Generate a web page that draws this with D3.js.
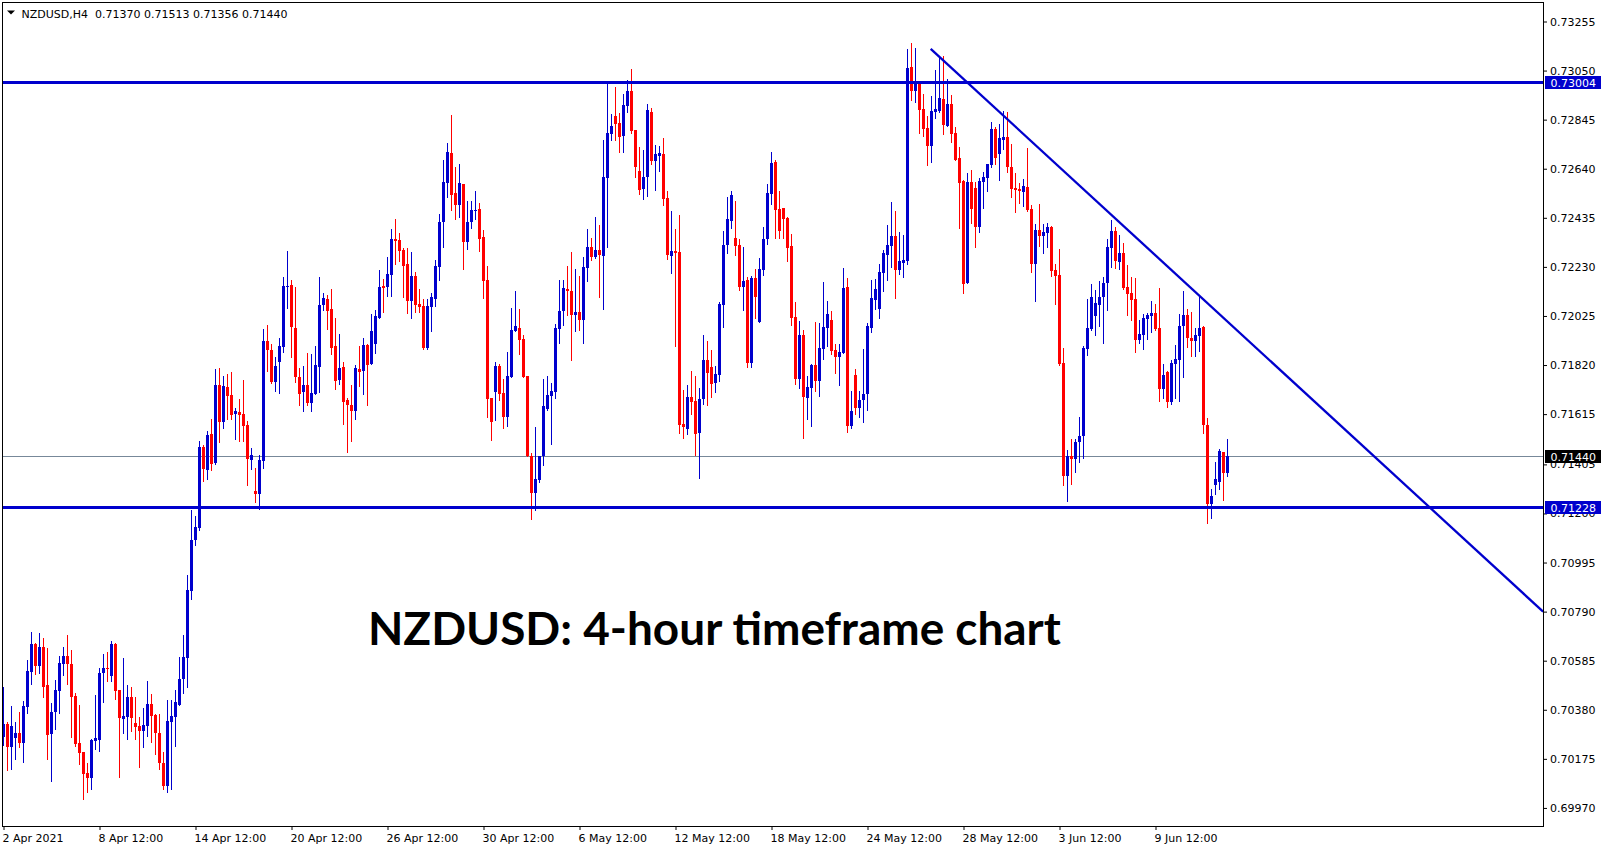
<!DOCTYPE html>
<html><head><meta charset="utf-8">
<script src="https://cdn.jsdelivr.net/npm/d3@7"></script>
<style>
html,body{margin:0;padding:0;background:#fff;overflow:hidden}
svg{display:block}
</style></head><body>
<svg id="c" width="1607" height="850"></svg>
<script>
const symbol = "NZDUSD", timeframe = "H4";
const chartTitle = "NZDUSD: 4-hour timeframe chart";

const open = [
0.70268,0.70321,0.70226,0.70264,0.70283,0.70243,0.70393,0.70539,0.70655,0.70563,
0.70642,0.70484,0.70280,0.70371,0.70460,0.70573,0.70605,0.70571,0.70438,0.70241,
0.70204,0.70116,0.70097,0.70251,0.70254,0.70534,0.70555,0.70521,0.70655,0.70463,
0.70343,0.70351,0.70433,0.70325,0.70312,0.70293,0.70314,0.70404,0.70358,0.70283,
0.70158,0.70063,0.70330,0.70351,0.70401,0.70510,0.70598,0.70878,0.71089,0.71138,
0.71479,0.71383,0.71532,0.71411,0.71737,0.71584,0.71729,0.71695,0.71617,0.71624,
0.71616,0.71570,0.71425,0.71294,0.71283,0.71421,0.71921,0.71884,0.71751,0.71834,
0.71897,0.72146,0.72154,0.71975,0.71772,0.71709,0.71737,0.71663,0.71701,0.71813,
0.72071,0.72096,0.72054,0.71900,0.71759,0.71812,0.71674,0.71653,0.71626,0.71804,
0.71797,0.71904,0.71826,0.71909,0.72018,0.72150,0.72146,0.72196,0.72347,0.72342,
0.72301,0.72242,0.72089,0.72192,0.72074,0.72067,0.71893,0.72064,0.72096,0.72231,
0.72418,0.72582,0.72706,0.72539,0.72490,0.72576,0.72336,0.72418,0.72465,0.72472,
0.72355,0.72176,0.71684,0.71709,0.71818,0.71705,0.71605,0.71772,0.71964,0.71975,
0.71929,0.71776,0.71442,0.71287,0.71338,0.71442,0.71638,0.71692,0.71709,0.71972,
0.72045,0.72139,0.72131,0.72031,0.72043,0.72010,0.72227,0.72313,0.72272,0.72301,
0.72277,0.72603,0.72785,0.72860,0.72833,0.72777,0.72902,0.72965,0.72802,0.72631,
0.72555,0.72605,0.72877,0.72672,0.72693,0.72702,0.72518,0.72276,0.72297,0.72292,
0.71574,0.71553,0.71687,0.71670,0.71537,0.71678,0.71841,0.71812,0.71747,0.71779,
0.72071,0.72322,0.72422,0.72351,0.72322,0.72146,0.72175,0.71829,0.72184,0.72000,
0.72217,0.72347,0.72534,0.72668,0.72472,0.72476,0.72434,0.72317,0.72021,0.71762,
0.71946,0.71683,0.71724,0.71820,0.71754,0.71887,0.71975,0.72008,0.71883,0.71854,
0.71871,0.72146,0.71567,0.71780,0.71642,0.71676,0.71697,0.71976,0.72093,0.72052,
0.72206,0.72281,0.72319,0.72361,0.72215,0.72248,0.72256,0.73066,0.72966,0.72995,
0.72891,0.72812,0.72736,0.72878,0.72883,0.72933,0.72820,0.72912,0.72791,0.72686,
0.72590,0.72164,0.72586,0.72561,0.72398,0.72586,0.72603,0.72657,0.72808,0.72703,
0.72762,0.72774,0.72649,0.72561,0.72557,0.72544,0.72565,0.72473,0.72240,0.72384,
0.72361,0.72373,0.72397,0.72219,0.72198,0.71830,0.71358,0.71442,0.71429,0.71500,
0.71525,0.71889,0.71972,0.72026,0.72072,0.72106,0.72164,0.72310,0.72381,0.72252,
0.72290,0.72148,0.72122,0.72097,0.71926,0.71947,0.72014,0.72026,0.72039,0.71976,
0.71722,0.71793,0.71667,0.71826,0.71843,0.71985,0.72031,0.71935,0.71922,0.71943,
0.71980,0.71571,0.71241,0.71317,0.71333,0.71458,0.71370
];
const high = [
0.70477,0.70330,0.70396,0.70329,0.70371,0.70417,0.70588,0.70705,0.70659,0.70701,
0.70680,0.70638,0.70408,0.70505,0.70605,0.70642,0.70692,0.70631,0.70450,0.70400,
0.70204,0.70158,0.70258,0.70442,0.70555,0.70613,0.70621,0.70667,0.70659,0.70463,
0.70596,0.70484,0.70475,0.70433,0.70350,0.70388,0.70500,0.70446,0.70363,0.70363,
0.70204,0.70421,0.70421,0.70463,0.70601,0.70692,0.70943,0.71215,0.71189,0.71504,
0.71484,0.71546,0.71595,0.71804,0.71808,0.71774,0.71784,0.71791,0.71641,0.71678,
0.71758,0.71587,0.71475,0.71392,0.71443,0.71971,0.71987,0.71908,0.71855,0.71933,
0.72188,0.72296,0.72175,0.72146,0.71808,0.71816,0.71871,0.71866,0.71900,0.72188,
0.72121,0.72113,0.72138,0.72017,0.71950,0.71833,0.71684,0.71737,0.71820,0.71900,
0.71933,0.71908,0.72033,0.72050,0.72217,0.72180,0.72271,0.72388,0.72430,0.72372,
0.72309,0.72309,0.72292,0.72209,0.72138,0.72096,0.72096,0.72120,0.72259,0.72451,
0.72677,0.72748,0.72865,0.72647,0.72660,0.72576,0.72505,0.72505,0.72547,0.72497,
0.72384,0.72234,0.71684,0.71833,0.71826,0.71763,0.71875,0.72060,0.72131,0.72056,
0.71946,0.71776,0.71453,0.71563,0.71442,0.71763,0.71776,0.71743,0.71993,0.72177,
0.72176,0.72234,0.72294,0.72223,0.72194,0.72273,0.72390,0.72352,0.72440,0.72407,
0.72762,0.72994,0.72869,0.72981,0.72873,0.72952,0.73011,0.73055,0.72802,0.72731,
0.72718,0.72910,0.72894,0.72739,0.72735,0.72768,0.72547,0.72463,0.72388,0.72447,
0.71716,0.71737,0.71795,0.71775,0.71724,0.71946,0.71921,0.71883,0.71816,0.72083,
0.72380,0.72522,0.72547,0.72505,0.72347,0.72313,0.72188,0.72192,0.72221,0.72267,
0.72397,0.72576,0.72710,0.72677,0.72547,0.72476,0.72439,0.72367,0.72083,0.72004,
0.71967,0.71775,0.71825,0.72000,0.71996,0.72167,0.72088,0.72046,0.71908,0.71908,
0.72225,0.72184,0.71713,0.71805,0.71713,0.71885,0.71997,0.72177,0.72181,0.72240,
0.72302,0.72407,0.72503,0.72465,0.72377,0.72365,0.73142,0.73167,0.73146,0.73004,
0.72954,0.72862,0.72945,0.73054,0.73108,0.73112,0.73016,0.72950,0.72816,0.72732,
0.72595,0.72624,0.72636,0.72586,0.72603,0.72628,0.72661,0.72837,0.72816,0.72828,
0.72883,0.72878,0.72745,0.72624,0.72582,0.72599,0.72728,0.72490,0.72411,0.72493,
0.72409,0.72413,0.72401,0.72244,0.72306,0.71893,0.71467,0.71509,0.71513,0.71605,
0.71901,0.72097,0.72160,0.72135,0.72173,0.72189,0.72348,0.72426,0.72398,0.72365,
0.72331,0.72239,0.72189,0.72185,0.72010,0.72035,0.72039,0.72089,0.72077,0.72143,
0.71826,0.71797,0.71839,0.71905,0.72035,0.72131,0.72056,0.72043,0.71976,0.72106,
0.71985,0.71600,0.71304,0.71413,0.71471,0.71458,0.71513
];
const low = [
0.70233,0.70129,0.70133,0.70175,0.70226,0.70162,0.70368,0.70488,0.70530,0.70535,
0.70435,0.70175,0.70084,0.70301,0.70368,0.70527,0.70488,0.70268,0.70230,0.70155,
0.70006,0.70038,0.70047,0.70218,0.70209,0.70413,0.70502,0.70502,0.70425,0.70101,
0.70285,0.70259,0.70293,0.70259,0.70143,0.70226,0.70272,0.70247,0.70197,0.70134,
0.70047,0.70038,0.70047,0.70230,0.70401,0.70452,0.70477,0.70844,0.71068,0.71131,
0.71337,0.71342,0.71383,0.71408,0.71500,0.71557,0.71595,0.71595,0.71511,0.71504,
0.71504,0.71321,0.71387,0.71246,0.71220,0.71392,0.71797,0.71747,0.71713,0.71705,
0.71876,0.72060,0.71855,0.71751,0.71651,0.71630,0.71651,0.71626,0.71697,0.71709,
0.72050,0.71972,0.71868,0.71722,0.71742,0.71575,0.71458,0.71504,0.71596,0.71734,
0.71701,0.71655,0.71826,0.71872,0.72018,0.72043,0.72109,0.72109,0.72242,0.72255,
0.72104,0.72038,0.72018,0.72043,0.72043,0.71889,0.71885,0.71964,0.72068,0.72176,
0.72311,0.72524,0.72469,0.72432,0.72440,0.72223,0.72306,0.72394,0.72432,0.72298,
0.72098,0.71605,0.71505,0.71592,0.71676,0.71555,0.71567,0.71772,0.71964,0.71868,
0.71768,0.71442,0.71175,0.71216,0.71333,0.71404,0.71634,0.71492,0.71684,0.71910,
0.71988,0.72031,0.71843,0.71964,0.71968,0.71914,0.72173,0.72260,0.72269,0.72106,
0.72052,0.72311,0.72760,0.72760,0.72711,0.72711,0.72877,0.72790,0.72607,0.72534,
0.72514,0.72526,0.72660,0.72551,0.72631,0.72489,0.72263,0.72205,0.71900,0.71537,
0.71516,0.71532,0.71616,0.71445,0.71350,0.71658,0.71653,0.71687,0.71708,0.71754,
0.71979,0.72288,0.72393,0.72280,0.72134,0.72050,0.71812,0.71812,0.72017,0.72000,
0.72196,0.72326,0.72493,0.72351,0.72351,0.72351,0.72255,0.71987,0.71741,0.71724,
0.71516,0.71595,0.71566,0.71712,0.71691,0.71846,0.71900,0.71866,0.71787,0.71737,
0.71871,0.71541,0.71559,0.71617,0.71605,0.71584,0.71634,0.71956,0.72056,0.72018,
0.72131,0.72177,0.72231,0.72102,0.72202,0.72189,0.72240,0.72929,0.72920,0.72791,
0.72778,0.72657,0.72670,0.72853,0.72878,0.72787,0.72820,0.72753,0.72678,0.72394,
0.72123,0.72164,0.72415,0.72311,0.72377,0.72478,0.72549,0.72649,0.72661,0.72595,
0.72724,0.72628,0.72524,0.72461,0.72498,0.72486,0.72465,0.72210,0.72089,0.72319,
0.72290,0.72315,0.72193,0.72077,0.71822,0.71321,0.71254,0.71325,0.71375,0.71417,
0.71433,0.71864,0.71968,0.71947,0.71985,0.71914,0.72051,0.72231,0.72227,0.72223,
0.72139,0.72031,0.72010,0.71876,0.71914,0.71889,0.71930,0.71960,0.71968,0.71671,
0.71684,0.71646,0.71659,0.71684,0.71671,0.71772,0.71897,0.71859,0.71859,0.71880,
0.71538,0.71162,0.71179,0.71283,0.71304,0.71258,0.71356
];
const close = [
0.70321,0.70226,0.70312,0.70283,0.70243,0.70396,0.70542,0.70655,0.70563,0.70642,
0.70477,0.70276,0.70371,0.70463,0.70575,0.70605,0.70573,0.70435,0.70237,0.70201,
0.70113,0.70097,0.70254,0.70262,0.70534,0.70555,0.70550,0.70655,0.70460,0.70346,
0.70354,0.70433,0.70346,0.70310,0.70293,0.70317,0.70404,0.70356,0.70285,0.70159,
0.70063,0.70333,0.70354,0.70413,0.70509,0.70601,0.70880,0.71089,0.71144,0.71479,
0.71387,0.71528,0.71408,0.71737,0.71584,0.71733,0.71692,0.71613,0.71628,0.71612,
0.71567,0.71429,0.71443,0.71283,0.71425,0.71921,0.71884,0.71751,0.71818,0.71900,
0.72150,0.72150,0.71980,0.71772,0.71701,0.71737,0.71663,0.71703,0.71820,0.72071,
0.72100,0.72047,0.71893,0.71755,0.71808,0.71667,0.71655,0.71630,0.71808,0.71793,
0.71904,0.71822,0.71962,0.72025,0.72146,0.72143,0.72200,0.72347,0.72340,0.72296,
0.72235,0.72089,0.72192,0.72071,0.72061,0.71893,0.72067,0.72103,0.72234,0.72418,
0.72585,0.72710,0.72532,0.72490,0.72581,0.72336,0.72418,0.72468,0.72468,0.72348,
0.72173,0.71680,0.71584,0.71818,0.71701,0.71605,0.71776,0.71967,0.71983,0.71926,
0.71768,0.71442,0.71287,0.71346,0.71442,0.71647,0.71695,0.71712,0.71976,0.72047,
0.72142,0.72131,0.72031,0.72043,0.72010,0.72230,0.72313,0.72272,0.72302,0.72281,
0.72607,0.72789,0.72819,0.72827,0.72773,0.72906,0.72965,0.72798,0.72649,0.72551,
0.72605,0.72885,0.72672,0.72702,0.72706,0.72514,0.72280,0.72297,0.72288,0.71570,
0.71561,0.71687,0.71666,0.71532,0.71678,0.71841,0.71787,0.71742,0.71783,0.72075,
0.72322,0.72430,0.72530,0.72317,0.72146,0.72171,0.71829,0.72184,0.72104,0.72221,
0.72347,0.72539,0.72664,0.72468,0.72380,0.72430,0.72309,0.72017,0.71762,0.71946,
0.71687,0.71729,0.71820,0.71754,0.71891,0.71979,0.72033,0.71879,0.71854,0.71875,
0.72142,0.71566,0.71626,0.71642,0.71676,0.71701,0.71981,0.72098,0.72139,0.72210,
0.72286,0.72323,0.72361,0.72215,0.72256,0.72260,0.73062,0.72966,0.73008,0.72887,
0.72808,0.72736,0.72883,0.72891,0.72937,0.72824,0.72912,0.72787,0.72678,0.72582,
0.72160,0.72586,0.72473,0.72398,0.72590,0.72607,0.72661,0.72808,0.72686,0.72770,
0.72774,0.72649,0.72557,0.72553,0.72549,0.72569,0.72469,0.72240,0.72386,0.72361,
0.72376,0.72397,0.72214,0.72193,0.71826,0.71358,0.71442,0.71429,0.71500,0.71525,
0.71893,0.71976,0.72106,0.72081,0.72106,0.72164,0.72315,0.72381,0.72256,0.72290,
0.72143,0.72118,0.72093,0.71926,0.71951,0.72018,0.72031,0.72039,0.71972,0.71722,
0.71780,0.71667,0.71830,0.71847,0.71985,0.72031,0.71935,0.71922,0.71947,0.71976,
0.71571,0.71241,0.71275,0.71346,0.71463,0.71371,0.71440
];

const xTickIndex  = [0,24,48,72,96,120,144,168,192,216,240,264,288];
const xTickLabels = ["2 Apr 2021","8 Apr 12:00","14 Apr 12:00","20 Apr 12:00","26 Apr 12:00",
  "30 Apr 12:00","6 May 12:00","12 May 12:00","18 May 12:00","24 May 12:00",
  "28 May 12:00","3 Jun 12:00","9 Jun 12:00"];
const yTickValues = [0.73255,0.73050,0.72845,0.72640,0.72435,0.72230,0.72025,0.71820,
  0.71615,0.71405,0.71200,0.70995,0.70790,0.70585,0.70380,0.70175,0.69970];
const levelPrices = [0.73004, 0.71228];
const bidPrice = 0.71440;
const trendBars   = [231.8, 384.9];
const trendPrices = [0.73141, 0.70790];

if (![open,high,low].every(a => a.length === close.length))
  throw new Error("length mismatch " + [open.length,high.length,low.length,close.length]);

const BLUE = "#0000CD", RED = "#FF0000", FONT = "DejaVu Sans, Verdana, sans-serif";
const P = {left: 2, top: 2, right: 1543, bottom: 826};
const n = close.length;
const x = d3.scaleLinear().domain([0, n - 1]).range([3.5, 3.5 + 4 * (n - 1)]);
const y = d3.scaleLinear().domain([0.69970, 0.73255]).range([807.93, 21.5]);

const svg = d3.select("#c");
svg.append("defs").append("clipPath").attr("id", "plot")
  .append("rect").attr("x", P.left + 1).attr("y", P.top + 1)
  .attr("width", P.right - P.left - 1).attr("height", P.bottom - P.top - 1);

const plotG = svg.append("g").attr("clip-path", "url(#plot)");

// bid line (behind candles)
plotG.append("line").attr("x1", P.left).attr("x2", P.right)
  .attr("y1", Math.round(y(bidPrice)) + 0.5).attr("y2", Math.round(y(bidPrice)) + 0.5)
  .attr("stroke", "#778899").attr("stroke-width", 1).attr("shape-rendering", "crispEdges");

const bars = d3.range(n).map(i => ({i, o: open[i], h: high[i], l: low[i], c: close[i]}));
const cg = plotG.append("g").attr("shape-rendering", "crispEdges");
const candle = cg.selectAll("g.k").data(bars).join("g").attr("class", "k")
  .attr("fill", d => d.c >= d.o ? BLUE : RED);
candle.append("rect")
  .attr("x", d => x(d.i) - 0.5).attr("width", 1)
  .attr("y", d => Math.round(y(Math.max(d.h, d.o, d.c))))
  .attr("height", d => Math.round(y(Math.min(d.l, d.o, d.c))) - Math.round(y(Math.max(d.h, d.o, d.c))) + 1);
candle.append("rect")
  .attr("x", d => x(d.i) - 1.5).attr("width", 3)
  .attr("y", d => Math.round(y(Math.max(d.o, d.c))))
  .attr("height", d => Math.max(1, Math.round(y(Math.min(d.o, d.c))) - Math.round(y(Math.max(d.o, d.c)))));

// horizontal support / resistance
plotG.selectAll("line.lvl").data(levelPrices).join("line").attr("class", "lvl")
  .attr("x1", P.left).attr("x2", P.right)
  .attr("y1", d => Math.round(y(d)) + 0.5).attr("y2", d => Math.round(y(d)) + 0.5)
  .attr("stroke", BLUE).attr("stroke-width", 3).attr("shape-rendering", "crispEdges");

// trendline
plotG.append("path")
  .datum(trendBars.map((b, k) => [b, trendPrices[k]]))
  .attr("d", d3.line().x(d => x(d[0])).y(d => y(d[1])))
  .attr("fill", "none").attr("stroke", BLUE).attr("stroke-width", 2.3);

// frame
const frame = svg.append("g").attr("stroke", "#000").attr("stroke-width", 1).attr("shape-rendering", "crispEdges");
frame.append("line").attr("x1", P.left + 0.5).attr("x2", P.left + 0.5).attr("y1", P.top).attr("y2", P.bottom + 1);
frame.append("line").attr("x1", P.left).attr("x2", P.right + 1).attr("y1", P.top + 0.5).attr("y2", P.top + 0.5);
frame.append("line").attr("x1", P.right + 0.5).attr("x2", P.right + 0.5).attr("y1", P.top).attr("y2", P.bottom + 1);
frame.append("line").attr("x1", P.left).attr("x2", P.right + 1).attr("y1", P.bottom + 0.5).attr("y2", P.bottom + 0.5);

// y axis
const yAxis = svg.append("g").attr("transform", `translate(${P.right},0)`)
  .call(d3.axisRight(y).tickValues(yTickValues).tickSize(4).tickPadding(3).tickFormat(d3.format(".5f")));
yAxis.select(".domain").remove();
yAxis.attr("font-family", FONT).attr("font-size", 11);
yAxis.selectAll("text").attr("fill", "#000");
yAxis.selectAll("line").attr("stroke", "#000");

// x axis
const xAxis = svg.append("g").attr("transform", `translate(0,${P.bottom})`)
  .call(d3.axisBottom(x).tickValues(xTickIndex).tickSize(4).tickPadding(4)
    .tickFormat((d, k) => xTickLabels[k]));
xAxis.select(".domain").remove();
xAxis.attr("font-family", FONT).attr("font-size", 11);
xAxis.selectAll("text").attr("fill", "#000").attr("text-anchor", "start").attr("dx", -1.5);
xAxis.selectAll("line").attr("stroke", "#000");

// price tags on the axis
const tags = [
  {v: levelPrices[0], bg: BLUE},
  {v: bidPrice, bg: "#000"},
  {v: levelPrices[1], bg: BLUE}
];
const tg = svg.append("g");
tags.forEach(t => {
  const yy = Math.round(y(t.v));
  tg.append("rect").attr("x", 1545).attr("y", yy - 6).attr("width", 56).attr("height", 13)
    .attr("fill", t.bg).attr("shape-rendering", "crispEdges");
  tg.append("text").attr("x", 1550.5).attr("y", yy + 4.5).text(d3.format(".5f")(t.v))
    .attr("font-family", FONT).attr("font-size", 11).attr("fill", "#fff");
});

// header
svg.append("path").attr("d", "M7,10.5 L15,10.5 L11,14.5 Z").attr("fill", "#000");
const last = n - 1;
svg.append("text").attr("x", 21.5).attr("y", 17.5).attr("xml:space", "preserve")
  .style("white-space", "pre")
  .attr("font-family", FONT).attr("font-size", 11).attr("fill", "#000")
  .text(`${symbol},${timeframe}  ${d3.format(".5f")(open[last])} ${d3.format(".5f")(high[last])} ${d3.format(".5f")(low[last])} ${d3.format(".5f")(close[last])}`);

// title
const tt = svg.append("text").attr("x", 368).attr("y", 645).text(chartTitle)
  .attr("font-family", "Lato, 'Open Sans', sans-serif").attr("font-weight", 700)
  .attr("font-size", 44).attr("fill", "#000");
const tw = tt.node().getComputedTextLength();
tt.attr("font-size", 44 * 693 / tw);
</script>
</body></html>
